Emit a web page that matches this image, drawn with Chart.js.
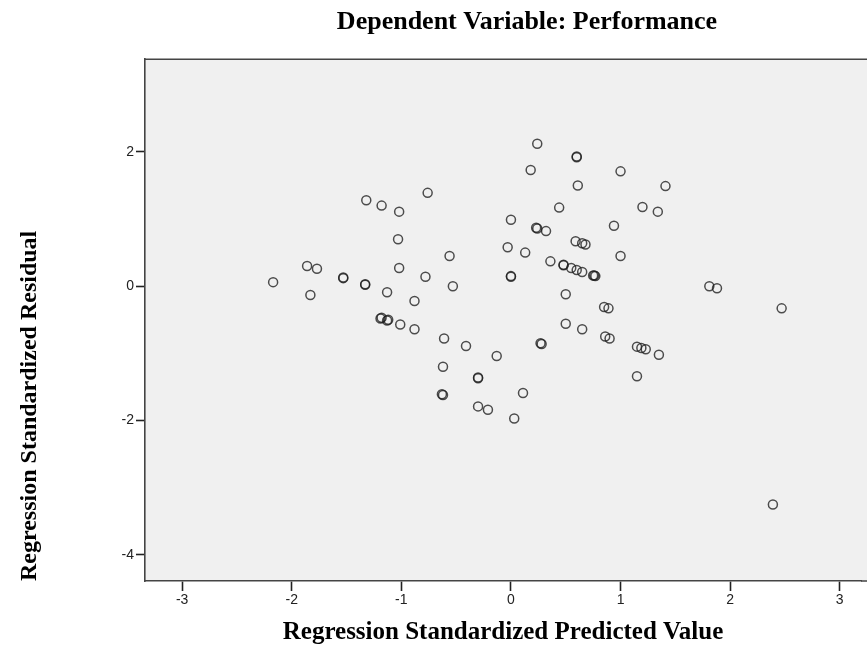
<!DOCTYPE html>
<html>
<head>
<meta charset="utf-8">
<script src="https://cdn.jsdelivr.net/npm/chart.js@4.4.0/dist/chart.umd.min.js"></script>
<style>
  html, body { margin: 0; padding: 0; background: #fff; }
  #wrap { width: 867px; height: 652px; position: relative; }
</style>
</head>
<body>
<div id="wrap"><canvas id="chart_residualScatter"></canvas></div>
<script>
// Regression Standardized Predicted Value (x) / Residual (y)
var predicted = [
    -2.17, -1.86, -1.77, -1.83, -1.53, -1.53, -1.33, -1.33, -1.32, -1.18,
    -1.02, -0.76, -1.03, -1.02, -1.13, -0.88, -0.78, -0.56, -0.53, 0.00,
    -0.03, 0.00, 0.00, -1.19, -1.18, -1.13, -1.12, -1.01, -0.88, -0.61,
    -0.41, -0.13, -0.62, -0.30, -0.30, -0.63, -0.62, 0.11, -0.30, -0.21,
    0.03, 0.24, 0.60, 0.60, 0.18, 1.00, 0.61, 1.41, 0.44, 1.20,
    1.34, 0.24, 0.23, 0.32, 0.94, 0.13, 0.36, 0.59, 0.65, 0.68,
    1.00, 0.48, 0.48, 0.55, 0.60, 0.65, 0.75, 0.76, 0.77, 0.50,
    0.85, 0.89, 1.81, 1.88, 2.47, 0.50, 0.65, 0.86, 0.90, 0.28,
    0.27, 1.15, 1.19, 1.23, 1.35, 1.15, 2.39
];
var residual = [
    0.06, 0.30, 0.26, -0.13, 0.12, 0.13, 0.02, 0.03, 1.28, 1.20,
    1.11, 1.39, 0.70, 0.27, -0.09, -0.22, 0.14, 0.45, 0.00, 0.99,
    0.58, 0.14, 0.15, -0.48, -0.47, -0.51, -0.50, -0.57, -0.64, -0.78,
    -0.89, -1.04, -1.20, -1.37, -1.36, -1.61, -1.62, -1.59, -1.79, -1.84,
    -1.97, 2.12, 1.92, 1.93, 1.73, 1.71, 1.50, 1.49, 1.17, 1.18,
    1.11, 0.86, 0.87, 0.82, 0.90, 0.50, 0.37, 0.67, 0.64, 0.62,
    0.45, 0.31, 0.32, 0.27, 0.24, 0.21, 0.16, 0.16, 0.15, -0.12,
    -0.31, -0.33, 0.00, -0.03, -0.33, -0.56, -0.64, -0.75, -0.78, -0.86,
    -0.85, -0.90, -0.92, -0.94, -1.02, -1.34, -3.25
];
var xTicks = [-3, -2, -1, 0, 1, 2, 3];
var yTicks = [-4, -2, 0, 2];

var points = predicted.map(function(x, i) { return { x: x, y: residual[i] }; });

var axisFont = { family: 'Liberation Sans', size: 14 };
var titleFont = { family: 'Liberation Serif', size: 25, weight: 'bold' };

var chart_residualScatter = new Chart(document.getElementById('chart_residualScatter'), {
    type: 'scatter',
    data: {
        datasets: [
            {
                label: 'Residual',
                data: points,
                pointStyle: 'circle',
                pointRadius: 4.5,
                pointHoverRadius: 4.5,
                borderWidth: 1.5,
                borderColor: 'rgba(30,30,30,0.78)',
                backgroundColor: 'rgba(0,0,0,0)'
            }
        ]
    },
    options: {
        animation: false,
        responsive: true,
        maintainAspectRatio: false,
        layout: { padding: 0 },
        plugins: {
            legend: { display: false },
            tooltip: { enabled: false },
            title: {
                display: true,
                fullSize: false,
                text: 'Dependent Variable: Performance',
                color: '#000',
                font: { family: 'Liberation Serif', size: 26, weight: 'bold' },
                padding: { top: 7, bottom: 21 }
            }
        },
        scales: {
            x: {
                type: 'linear',
                min: -3.339,
                max: 3.194,
                afterBuildTicks: function(scale) {
                    scale.ticks = xTicks.map(function(v) { return { value: v }; });
                },
                afterFit: function(scale) { scale.height = 71; },
                grid: {
                    drawOnChartArea: false,
                    drawTicks: true,
                    tickLength: 10,
                    tickColor: '#222',
                    tickWidth: 1.6
                },
                border: { display: true, color: '#444', width: 1.6 },
                ticks: { font: axisFont, color: '#222', padding: 1 },
                title: {
                    display: true,
                    text: 'Regression Standardized Predicted Value',
                    color: '#000',
                    font: titleFont,
                    padding: { top: 0, bottom: 4 }
                }
            },
            y: {
                type: 'linear',
                min: -4.39,
                max: 3.38,
                afterBuildTicks: function(scale) {
                    scale.ticks = yTicks.map(function(v) { return { value: v }; });
                },
                afterFit: function(scale) { scale.width = 145; },
                grid: {
                    drawOnChartArea: false,
                    drawTicks: true,
                    tickLength: 9,
                    tickColor: '#222',
                    tickWidth: 1.6
                },
                border: { display: true, color: '#444', width: 1.6 },
                ticks: { font: axisFont, color: '#222', padding: 2 },
                title: {
                    display: true,
                    align: 'start',
                    text: 'Regression Standardized Residual',
                    color: '#000',
                    font: { family: 'Liberation Serif', size: 24, weight: 'bold' },
                    padding: { top: 15, bottom: 0 }
                }
            }
        }
    },
    plugins: [{
        id: 'plotFrame',
        afterLayout: (chart) => {
            // the plot runs past the right edge, so centre the title on the full plot
            const t = chart.titleBlock;
            if (t) {
                t.left += 24;
                t.right += 24;
            }
        },
        beforeDraw: (chart) => {
            const ctx = chart.ctx;
            const a = chart.chartArea;
            ctx.save();
            ctx.fillStyle = '#fff';
            ctx.fillRect(0, 0, chart.width, chart.height);
            ctx.fillStyle = '#f0f0f0';
            ctx.fillRect(a.left, a.top, chart.width - a.left, a.bottom - a.top);
            ctx.strokeStyle = '#444';
            ctx.lineWidth = 1.6;
            ctx.beginPath();
            ctx.moveTo(a.left, a.top);
            ctx.lineTo(chart.width, a.top);
            ctx.moveTo(a.right, a.bottom);
            ctx.lineTo(chart.width, a.bottom);
            ctx.stroke();
            ctx.restore();
        }
    }]
});
</script>
</body>
</html>
